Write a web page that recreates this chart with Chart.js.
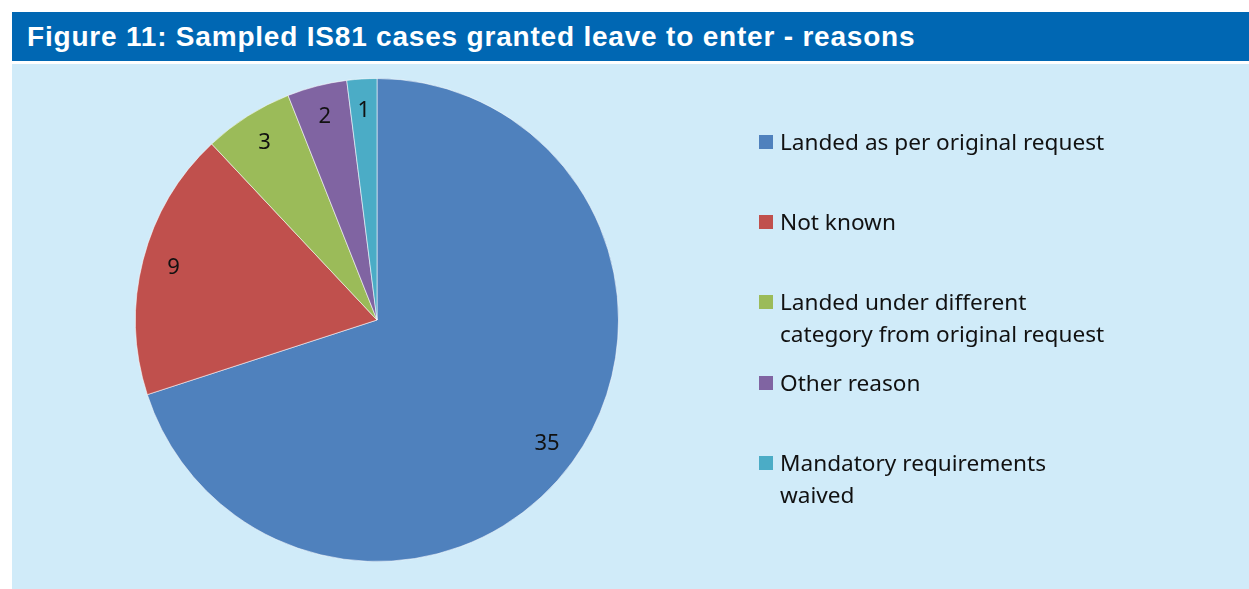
<!DOCTYPE html>
<html>
<head>
<meta charset="utf-8">
<script src="https://cdn.jsdelivr.net/npm/chart.js@4"></script>
<style>
  body { margin: 0; background: #ffffff; width: 1249px; height: 589px; overflow: hidden; position: relative; }
  .header {
    position: absolute; left: 12px; top: 12px; width: 1237px; height: 49px;
    background: #0067b3; color: #ffffff;
    font-family: "Liberation Sans", sans-serif; font-weight: bold; font-size: 28px; letter-spacing: 0.8px;
    line-height: 49px; box-sizing: border-box; padding-left: 15px; white-space: nowrap;
  }
  .panel { position: absolute; left: 12px; top: 64px; width: 1237px; height: 525px; background: #d0ebf9; }
  .panel canvas { position: absolute; left: 0; top: 0; }
  #legend { position: absolute; left: 747px; top: 62px; font-family: "Noto Sans", sans-serif; font-size: 22.6px; color: #111; }
  .item { position: relative; height: 80.2px; padding-left: 21px; line-height: 32px; }
  .item .box { position: absolute; left: 0; top: 9px; width: 14px; height: 14px; }
</style>
</head>
<body>
<div class="header">Figure 11: Sampled IS81 cases granted leave to enter - reasons</div>
<div class="panel">
  <canvas id="pie" width="1237" height="525"></canvas>
  <div id="legend"></div>
</div>
<script>
// Reasons and case counts
const reasons = [
    ['Landed as per original request'],
    ['Not known'],
    ['Landed under different', 'category from original request'],
    ['Other reason'],
    ['Mandatory requirements', 'waived']
];
const cases = [35, 9, 3, 2, 1];
const sliceColors = ['#4f81bd', '#c0504d', '#9bbb59', '#8064a2', '#4bacc6'];

// Value labels inside each slice, near the rim
const sliceLabels = {
    id: 'sliceLabels',
    afterDatasetsDraw(chart) {
        const ctx = chart.ctx;
        const meta = chart.getDatasetMeta(0);
        ctx.save();
        ctx.font = '22px "Noto Sans", sans-serif';
        ctx.fillStyle = '#111';
        ctx.textAlign = 'center';
        ctx.textBaseline = 'middle';
        meta.data.forEach((arc, i) => {
            const p = arc.getProps(['x', 'y', 'startAngle', 'endAngle', 'outerRadius'], true);
            const mid = (p.startAngle + p.endAngle) / 2;
            const r = p.outerRadius * 0.87;
            ctx.fillText(String(cases[i]), p.x + Math.cos(mid) * r, p.y + Math.sin(mid) * r);
        });
        ctx.restore();
    }
};

const ctx = document.getElementById('pie').getContext('2d');
const pieChart = new Chart(ctx, {
    type: 'pie',
    data: {
        labels: reasons.map(r => r.join(' ')),
        datasets: [{
            data: cases,
            backgroundColor: sliceColors,
            borderColor: 'rgba(255,255,255,0.55)',
            borderWidth: 1
        }]
    },
    options: {
        responsive: false,
        animation: false,
        layout: { padding: { left: 123, right: 630, top: 14, bottom: 27 } },
        plugins: {
            legend: { display: false },
            tooltip: { enabled: false }
        }
    },
    plugins: [sliceLabels]
});

// Legend built from the same arrays
const legend = document.getElementById('legend');
reasons.forEach((lines, i) => {
    const item = document.createElement('div');
    item.className = 'item';
    const box = document.createElement('span');
    box.className = 'box';
    box.style.background = sliceColors[i];
    item.appendChild(box);
    lines.forEach(line => {
        const row = document.createElement('div');
        row.textContent = line;
        item.appendChild(row);
    });
    legend.appendChild(item);
});
</script>
</body>
</html>
